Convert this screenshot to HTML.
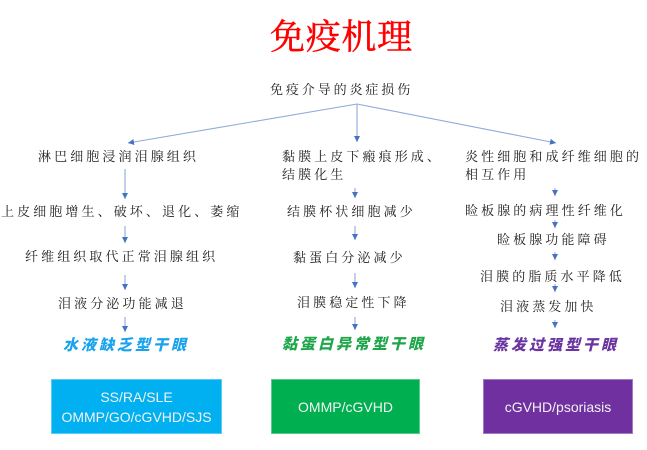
<!DOCTYPE html>
<html>
<head>
<meta charset="utf-8">
<style>
  html, body { margin:0; padding:0; background:#ffffff; }
  body { width:647px; height:450px; position:relative; overflow:hidden; }
  .t { position:absolute; white-space:nowrap; font-family:"Liberation Serif","Noto Serif CJK SC",serif; font-size:13px; line-height:18px; letter-spacing:3.1px; color:#222222; }
  .lab { position:absolute; white-space:nowrap; font-family:"Liberation Sans","Noto Sans CJK SC",sans-serif; font-size:15px; line-height:20px; letter-spacing:3px; font-weight:900; font-style:italic; }
  .box { position:absolute; top:379px; height:55px; display:flex; align-items:center; justify-content:center; text-align:center; font-family:"Liberation Sans",sans-serif; font-size:14px; line-height:20px; color:#f2f2f2; box-sizing:border-box; border:1px solid rgba(255,255,255,0.35); }
</style>
</head>
<body>
<svg width="647" height="450" style="position:absolute;left:0;top:0">
  <defs>
    <marker id="ah" markerUnits="userSpaceOnUse" markerWidth="7" markerHeight="7" refX="6" refY="3.5" orient="auto">
      <path d="M0,0.5 L6,3.5 L0,6.5 Z" fill="#4472C4"/>
    </marker>
  </defs>
  <g stroke="#8FAADC" stroke-width="1.1" fill="none" marker-end="url(#ah)">
    <line x1="357" y1="104" x2="128" y2="143"/>
    <line x1="357" y1="104" x2="357" y2="142"/>
    <line x1="357" y1="104" x2="556" y2="143"/>

    <line x1="125" y1="169" x2="125" y2="199"/>
    <line x1="125" y1="226" x2="125" y2="243"/>
    <line x1="125" y1="275" x2="125" y2="290"/>
    <line x1="125" y1="317" x2="125" y2="332"/>

    <line x1="355" y1="188" x2="355" y2="198"/>
    <line x1="355" y1="226" x2="355" y2="240"/>
    <line x1="355" y1="273" x2="355" y2="288"/>
    <line x1="355" y1="317" x2="355" y2="330"/>

    <line x1="555" y1="188" x2="555" y2="196"/>
    <line x1="555" y1="220" x2="555" y2="228"/>
    <line x1="555" y1="252" x2="555" y2="260"/>
    <line x1="555" y1="284" x2="555" y2="292"/>
    <line x1="555" y1="320" x2="555" y2="328"/>
  </g>
</svg>

<div style="position:absolute;left:270px;top:18px;white-space:nowrap;font-family:'Liberation Serif','Noto Serif CJK SC',serif;font-size:35px;line-height:40px;letter-spacing:0.7px;color:#ff0000;-webkit-text-stroke:0.5px #ff0000;">免疫机理</div>

<div class="t" style="left:270px;top:81px;letter-spacing:2.9px;">免疫介导的炎症损伤</div>

<!-- Left column -->
<div class="t" style="left:38px;top:148px;">淋巴细胞浸润泪腺组织</div>
<div class="t" style="left:1px;top:203px;">上皮细胞增生、破坏、退化、萎缩</div>
<div class="t" style="left:25px;top:248px;">纤维组织取代正常泪腺组织</div>
<div class="t" style="left:58px;top:295px;">泪液分泌功能减退</div>
<div class="lab" style="left:63px;top:336px;color:#1AA3EC;">水液缺乏型干眼</div>

<!-- Middle column -->
<div class="t" style="left:282px;top:148px;">黏膜上皮下瘢痕形成、</div>
<div class="t" style="left:282px;top:166px;">结膜化生</div>
<div class="t" style="left:287px;top:203px;">结膜杯状细胞减少</div>
<div class="t" style="left:293px;top:249px;">黏蛋白分泌减少</div>
<div class="t" style="left:297px;top:294px;">泪膜稳定性下降</div>
<div class="lab" style="left:282px;top:335px;color:#1FA64A;">黏蛋白异常型干眼</div>

<!-- Right column -->
<div class="t" style="left:465px;top:148px;">炎性细胞和成纤维细胞的</div>
<div class="t" style="left:465px;top:166px;">相互作用</div>
<div class="t" style="left:465px;top:202px;">睑板腺的病理性纤维化</div>
<div class="t" style="left:497px;top:231px;">睑板腺功能障碍</div>
<div class="t" style="left:480px;top:268px;">泪膜的脂质水平降低</div>
<div class="t" style="left:500px;top:298px;">泪液蒸发加快</div>
<div class="lab" style="left:493px;top:336px;color:#6A35A0;">蒸发过强型干眼</div>

<!-- Bottom boxes -->
<div class="box" style="left:51px;width:171px;background:#00B0F0;">SS/RA/SLE<br>OMMP/GO/cGVHD/SJS</div>
<div class="box" style="left:271px;width:149px;background:#00B050;">OMMP/cGVHD</div>
<div class="box" style="left:483px;width:150px;background:#7030A0;">cGVHD/psoriasis</div>
</body>
</html>
